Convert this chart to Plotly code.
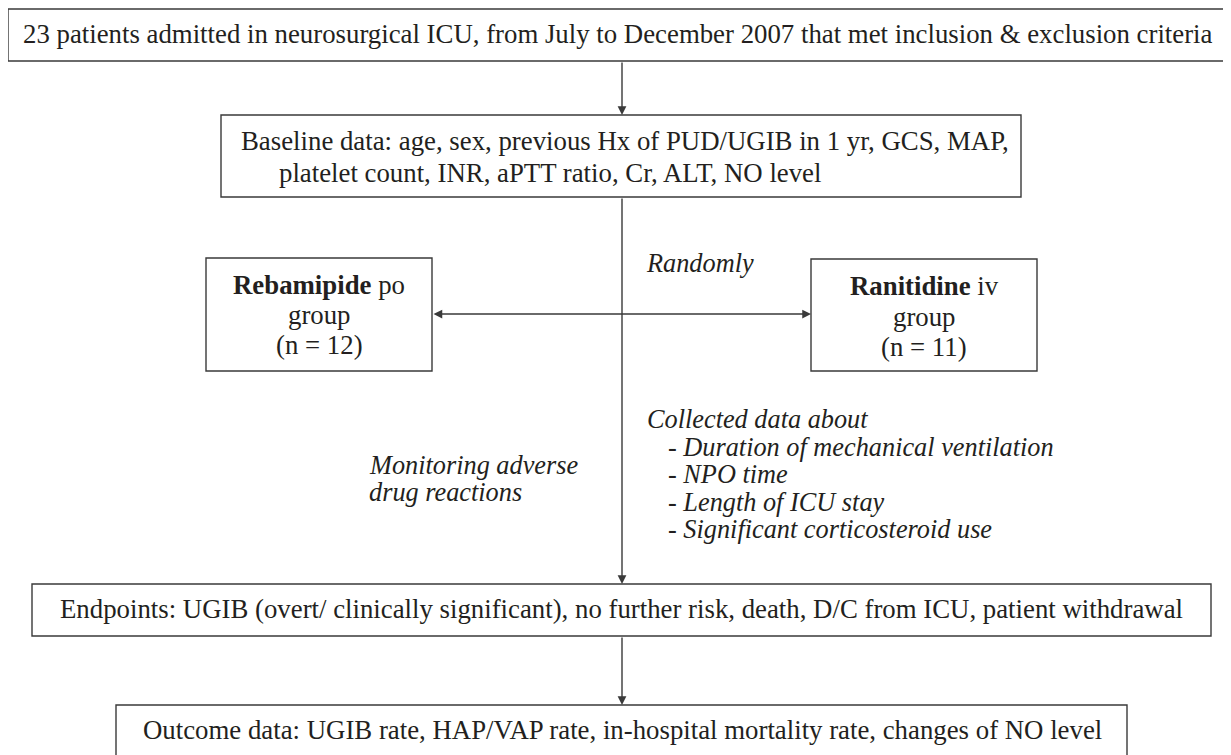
import plotly.graph_objects as go

W, H = 1231, 755
PAD = 8  # default page body margin
FONT = "Liberation Serif, Times New Roman, serif"
TXT = "#231f20"
LINE = "#3a3a3a"
FS = 26.8
FS_IT = 26.3

# ---- content (text data) ----
box_texts = {
    "top": ["23 patients admitted in neurosurgical ICU, from July to December 2007 that met inclusion & exclusion criteria"],
    "baseline": ["Baseline data: age, sex, previous Hx of PUD/UGIB in 1 yr, GCS, MAP,",
                 "platelet count, INR, aPTT ratio, Cr, ALT, NO level"],
    "rebamipide": ["<b>Rebamipide</b> po", "group", "(n = 12)"],
    "ranitidine": ["<b>Ranitidine</b> iv", "group", "(n = 11)"],
    "endpoints": ["Endpoints: UGIB (overt/ clinically significant), no further risk, death, D/C from ICU, patient withdrawal"],
    "outcome": ["Outcome data: UGIB rate, HAP/VAP rate, in-hospital mortality rate, changes of NO level"],
}
randomly_label = "Randomly"
collected_title = "Collected data about"
collected_items = ["Duration of mechanical ventilation", "NPO time",
                   "Length of ICU stay", "Significant corticosteroid use"]
monitoring_lines = ["Monitoring adverse", "drug reactions"]

# ---- layout geometry (page pixels) ----
boxes = {
    "top":        dict(x0=8,   x1=1240, y0=9,   y1=61),
    "baseline":   dict(x0=221, x1=1021, y0=115, y1=197),
    "rebamipide": dict(x0=206, x1=432,  y0=258, y1=371),
    "ranitidine": dict(x0=811, x1=1037, y0=259, y1=371),
    "endpoints":  dict(x0=32,  x1=1211, y0=584, y1=636),
    "outcome":    dict(x0=116, x1=1127, y0=705, y1=770),
}
text_pos = {
    "top":        dict(x=618, xanchor="center", base=[42]),
    "baseline":   dict(x=[240, 278], xanchor="left", base=[149, 181]),
    "rebamipide": dict(x=319, xanchor="center", base=[293, 323, 353]),
    "ranitidine": dict(x=924, xanchor="center", base=[294, 325, 355]),
    "endpoints":  dict(x=621, xanchor="center", base=[617]),
    "outcome":    dict(x=622, xanchor="center", base=[738]),
}
OFF = 8  # baseline -> middle offset

fig = go.Figure()
fig.add_trace(go.Scatter(x=[PAD, W], y=[PAD, H], mode="markers",
                         marker=dict(opacity=0), hoverinfo="skip", showlegend=False))

shapes = []
for k, b in boxes.items():
    shapes.append(dict(type="rect", xref="x", yref="y", **b,
                       line=dict(color=LINE, width=1.4), fillcolor="rgba(0,0,0,0)"))
annotations = []

def text(x, y, s, xanchor="center", italic=False):
    annotations.append(dict(x=x, y=y, xref="x", yref="y", text=(f"<i>{s}</i>" if italic else s),
                            showarrow=False, xanchor=xanchor, yanchor="middle", borderpad=0,
                            font=dict(family=FONT, size=(FS_IT if italic else FS), color=TXT)))

for k, lines in box_texts.items():
    p = text_pos[k]
    for i, s in enumerate(lines):
        x = p["x"][i] if isinstance(p["x"], list) else p["x"]
        text(x, p["base"][i] - OFF, s, p["xanchor"])

text(645, 271 - OFF, randomly_label, "left", True)
text(646, 427 - OFF, collected_title, "left", True)
for i, s in enumerate(collected_items):
    text(667, [455, 482, 510, 537][i] - OFF, "- " + s, "left", True)
for i, s in enumerate(monitoring_lines):
    text(368, [473, 500][i] - OFF, s, "left", True)

def arrow(x0, y0, x1, y1, side="end"):
    annotations.append(dict(x=x1, y=y1, ax=x0, ay=y0, xref="x", yref="y", axref="x", ayref="y",
                            showarrow=True, arrowhead=2, arrowsize=1.25, arrowwidth=1.4,
                            arrowcolor=LINE, arrowside=side, text=""))

arrow(622, 61, 622, 115)
arrow(622, 197, 622, 584)
arrow(432, 314, 811, 314, side="end+start")
arrow(622, 636, 622, 705)

fig.update_layout(
    width=W - PAD, height=H - PAD, margin=dict(l=0, r=0, t=0, b=0),
    paper_bgcolor="white", plot_bgcolor="white",
    xaxis=dict(range=[PAD, W], visible=False, fixedrange=True),
    yaxis=dict(range=[H, PAD], visible=False, fixedrange=True),
    shapes=shapes, annotations=annotations, showlegend=False,
)
fig.write_html("out.html")
